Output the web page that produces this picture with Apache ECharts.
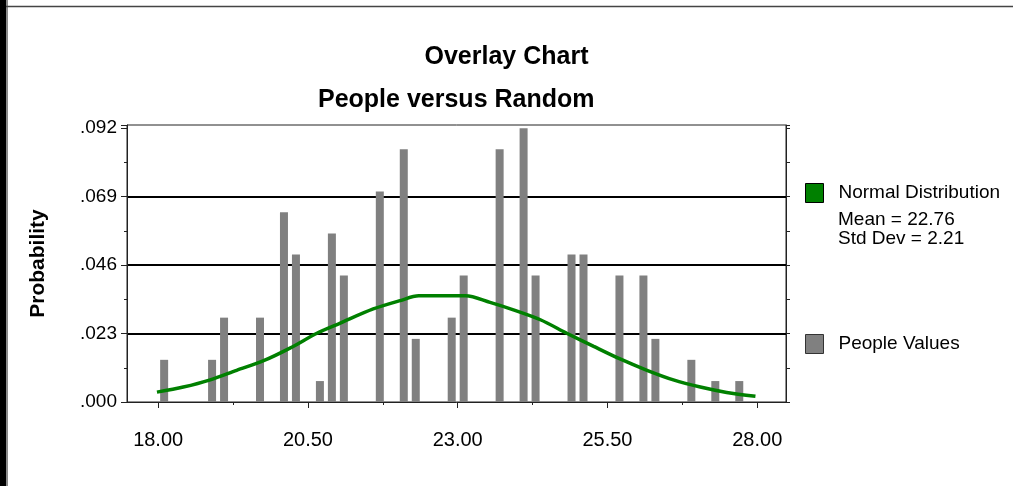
<!DOCTYPE html>
<html>
<head>
<meta charset="utf-8">
<title>Overlay Chart</title>
<script src="https://cdn.jsdelivr.net/npm/echarts@6/dist/echarts.min.js"></script>
<style>
  html, body { margin: 0; padding: 0; background: #fff; }
  #chart { width: 1013px; height: 486px; }
</style>
</head>
<body>
<div id="chart"></div>
<script>
// people values: bin centres and probabilities
const binCenters = [18.1, 18.9, 19.1, 19.7, 20.1, 20.3, 20.7, 20.9, 21.1, 21.7, 22.1, 22.3, 22.9,
  23.1, 23.7, 24.1, 24.3, 24.9, 25.1, 25.7, 26.1, 26.3, 26.9, 27.3, 27.7]
const peopleValues = [0.0141, 0.0141, 0.0282, 0.0282, 0.0634, 0.0493, 0.0070, 0.0563, 0.0423, 0.0704,
  0.0845, 0.0211, 0.0282, 0.0423, 0.0845, 0.0915, 0.0423, 0.0493, 0.0493, 0.0423, 0.0423, 0.0211,
  0.0141, 0.0070, 0.0070]

// fitted normal curve
const normalX = [17.98, 18.42, 18.87, 19.31, 19.76, 20.20, 20.65, 21.04, 21.59, 22.04, 22.35, 23.13,
  23.54, 23.93, 24.38, 24.82, 25.27, 25.71, 26.16, 26.60, 27.05, 27.49, 27.97]
const normalY = [0.0033, 0.0050, 0.0074, 0.0106, 0.0138, 0.0180, 0.0230, 0.0264, 0.0311, 0.0339, 0.0355,
  0.0355, 0.0333, 0.0308, 0.0275, 0.0230, 0.0186, 0.0144, 0.0106, 0.0074, 0.0050, 0.0032, 0.0019]
const mean = 22.76
const stdDev = 2.21

// axes
const xMajorTicks = [18, 20.5, 23, 25.5, 28]
const xTickLabels = ['18.00', '20.50', '23.00', '25.50', '28.00']
const xMinorTicks = [18, 19.25, 20.5, 21.75, 23, 24.25, 25.5, 26.75, 28]
const yTickLabels = ['.000', '.023', '.046', '.069', '.092']
const yInterval = 0.022887
const yMax = 0.0926
const xMin = 17.48
const xMax = 28.48

const font = 'Liberation Sans, Arial, sans-serif'
const chart = echarts.init(document.getElementById('chart'))

const option = {
  animation: false,
  backgroundColor: '#fff',
  title: [
    {
      text: 'Overlay Chart',
      left: 'center',
      top: 45,
      padding: 0,
      textStyle: { fontFamily: font, fontSize: 25, fontWeight: 'bold', color: '#000' }
    },
    {
      text: 'People versus Random',
      left: 318,
      top: 88,
      padding: 0,
      textStyle: { fontFamily: font, fontSize: 25, fontWeight: 'bold', color: '#000' }
    }
  ],
  legend: [
    {
      data: ['Normal Distribution'],
      left: 805,
      top: 183,
      padding: 0,
      icon: 'rect',
      itemWidth: 18,
      itemHeight: 19,
      itemStyle: { borderColor: '#000', borderWidth: 1 },
      textStyle: { fontFamily: font, fontSize: 19, color: '#000', padding: [6, 0, 0, 10] }
    },
    {
      data: ['People Values'],
      left: 805,
      top: 334,
      padding: 0,
      icon: 'rect',
      itemWidth: 18,
      itemHeight: 19,
      itemStyle: { borderColor: '#333', borderWidth: 1 },
      textStyle: { fontFamily: font, fontSize: 19, color: '#000', padding: [6, 0, 0, 10] }
    }
  ],
  grid: {
    left: 127,
    right: 227,
    top: 125,
    bottom: 84,
    show: true,
    borderColor: '#222',
    borderWidth: 1
  },
  xAxis: [
    {
      type: 'value',
      min: xMin,
      max: xMax,
      axisLine: { show: true, onZero: false, lineStyle: { color: '#222', width: 1 } },
      axisTick: { show: true, customValues: xMajorTicks, length: 6, lineStyle: { color: '#222' } },
      axisLabel: {
        customValues: xMajorTicks,
        formatter: v => xTickLabels[xMajorTicks.indexOf(v)] || '',
        fontFamily: font,
        fontSize: 20,
        color: '#000',
        margin: 28
      },
      splitLine: { show: false }
    },
    {
      type: 'value',
      min: xMin,
      max: xMax,
      position: 'bottom',
      axisLine: { show: false },
      axisTick: { show: true, customValues: xMinorTicks, length: 3, lineStyle: { color: '#222' } },
      axisLabel: { show: false },
      splitLine: { show: false }
    }
  ],
  yAxis: [
    {
      type: 'value',
      min: 0,
      max: yMax,
      interval: yInterval,
      name: 'Probability',
      nameLocation: 'middle',
      nameGap: 78,
      nameTextStyle: { fontFamily: font, fontSize: 21, fontWeight: 'bold', color: '#000' },
      axisLine: { show: true, lineStyle: { color: '#222', width: 1 } },
      axisTick: { show: true, length: 6, lineStyle: { color: '#222' } },
      minorTick: { show: true, splitNumber: 2, length: 3, lineStyle: { color: '#222' } },
      axisLabel: {
        formatter: (v, i) => yTickLabels[i] || '',
        fontFamily: font,
        fontSize: 19,
        color: '#000',
        margin: 10
      },
      splitLine: {
        show: true,
        lineStyle: {
          color: ['rgba(0,0,0,0)', '#000', '#000', '#000', 'rgba(0,0,0,0)', 'rgba(0,0,0,0)'],
          width: 2
        }
      }
    },
    {
      type: 'value',
      min: 0,
      max: yMax,
      interval: yInterval / 2,
      position: 'right',
      axisLine: { show: true, lineStyle: { color: '#222', width: 1 } },
      axisTick: { show: true, length: 4, lineStyle: { color: '#222' } },
      axisLabel: { show: false },
      splitLine: { show: false }
    }
  ],
  graphic: [
    { type: 'rect', shape: { x: 0, y: 0, width: 6, height: 486 }, style: { fill: '#000' } },
    { type: 'line', shape: { x1: 7, y1: 0, x2: 7, y2: 486 }, style: { stroke: '#666', lineWidth: 1.5 } },
    { type: 'line', shape: { x1: 6, y1: 6.5, x2: 1013, y2: 6.5 }, style: { stroke: '#444', lineWidth: 1.5 } },
    {
      type: 'text', x: 838, y: 219.5,
      style: { text: 'Mean = ' + mean.toFixed(2), font: '19px ' + font, fill: '#000', align: 'left', verticalAlign: 'middle' }
    },
    {
      type: 'text', x: 838, y: 238.5,
      style: { text: 'Std Dev = ' + stdDev.toFixed(2), font: '19px ' + font, fill: '#000', align: 'left', verticalAlign: 'middle' }
    }
  ],
  series: [
    {
      name: 'People Values',
      type: 'bar',
      barWidth: 8,
      data: binCenters.map((x, i) => [x, peopleValues[i]]),
      itemStyle: { color: '#808080' },
      z: 2
    },
    {
      name: 'Normal Distribution',
      type: 'line',
      smooth: 0.3,
      symbol: 'none',
      data: normalX.map((x, i) => [x, normalY[i]]),
      lineStyle: { color: '#008000', width: 3.5 },
      itemStyle: { color: '#008000' },
      z: 3
    }
  ]
}

chart.setOption(option)
</script>
</body>
</html>
